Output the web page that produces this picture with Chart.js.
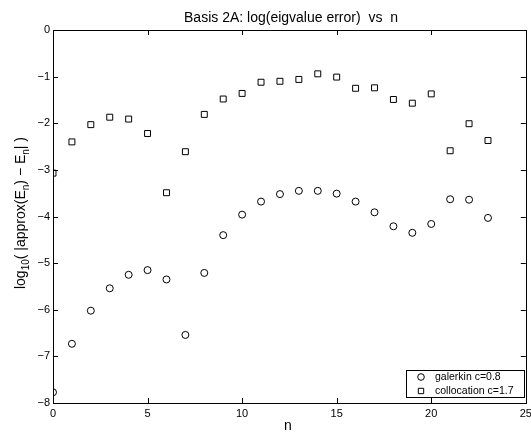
<!DOCTYPE html>
<html>
<head>
<meta charset="utf-8">
<script src="https://cdn.jsdelivr.net/npm/chart.js@4"></script>
<style>
  html, body { margin: 0; padding: 0; background: #fff; }
  #wrap { width: 531px; height: 432px; }
</style>
</head>
<body>
<div id="wrap"><canvas id="eigChart" width="531" height="432"></canvas></div>
<script>
// values
const nValues = [0, 1, 2, 3, 4, 5, 6, 7, 8, 9, 10, 11, 12, 13, 14, 15, 16, 17, 18, 19, 20, 21, 22, 23];
const galerkinErr = [-7.77, -6.73, -6.02, -5.54, -5.25, -5.15, -5.35, -6.54, -5.21, -4.40, -3.96, -3.68,
                     -3.52, -3.45, -3.45, -3.51, -3.68, -3.91, -4.21, -4.35, -4.16, -3.63, -3.64, -4.03];
const collocationErr = [-3.07, -2.40, -2.03, -1.87, -1.91, -2.22, -3.49, -2.61, -1.81, -1.48, -1.36, -1.12,
                        -1.10, -1.06, -0.94, -1.01, -1.25, -1.24, -1.49, -1.57, -1.37, -2.59, -2.01, -2.37];
const xTicks = [0, 5, 10, 15, 20, 25];
const yTicks = [-8, -7, -6, -5, -4, -3, -2, -1, 0];
const seriesLabels = ['galerkin c=0.8', 'collocation c=1.7'];

const FONT = 'Helvetica, Arial, "Liberation Sans", sans-serif';

function toPoints(ys) {
    return nValues.map((n, i) => ({ x: n, y: ys[i] }));
}

// box, inward ticks, title, axis labels and legend in matlab style
const matlabFrame = {
    id: 'matlabFrame',
    afterDraw(chart) {
        const ctx = chart.ctx;
        const a = chart.chartArea;
        const xs = chart.scales.x, ys = chart.scales.y;
        ctx.save();
        ctx.strokeStyle = '#000';
        ctx.lineWidth = 1;
        ctx.strokeRect(Math.round(a.left) + 0.5, Math.round(a.top) + 0.5,
                       Math.round(a.right - a.left), Math.round(a.bottom - a.top));

        const tl = 5;
        ctx.beginPath();
        xTicks.forEach(v => {
            const px = Math.round(xs.getPixelForValue(v)) + 0.5;
            ctx.moveTo(px, a.bottom); ctx.lineTo(px, a.bottom - tl);
            ctx.moveTo(px, a.top); ctx.lineTo(px, a.top + tl);
        });
        yTicks.forEach(v => {
            const py = Math.round(ys.getPixelForValue(v)) + 0.5;
            ctx.moveTo(a.left, py); ctx.lineTo(a.left + tl, py);
            ctx.moveTo(a.right, py); ctx.lineTo(a.right - tl, py);
        });
        ctx.stroke();

        // title
        ctx.fillStyle = '#000';
        ctx.font = '14px ' + FONT;
        ctx.textAlign = 'center';
        ctx.textBaseline = 'alphabetic';
        ctx.fillText('Basis 2A: log(eigvalue error)  vs  n', 291, 22);

        // x label
        ctx.font = '14px ' + FONT;
        ctx.fillText('n', 288, 430);

        // y label with subscripts
        const parts = [
            ['log', false], ['10', true], ['( |approx(E', false], ['n', true],
            [') \u2212 E', false], ['n', true], ['| )', false]
        ];
        const big = '14px ' + FONT, small = '10px ' + FONT;
        let total = 0;
        parts.forEach(p => { ctx.font = p[1] ? small : big; total += ctx.measureText(p[0]).width; });
        ctx.translate(25, 213);
        ctx.rotate(-Math.PI / 2);
        ctx.textAlign = 'left';
        let cx = -total / 2;
        parts.forEach(p => {
            ctx.font = p[1] ? small : big;
            ctx.fillText(p[0], cx, p[1] ? 4 : 0);
            cx += ctx.measureText(p[0]).width;
        });
        ctx.setTransform(1, 0, 0, 1, 0, 0);

        // legend
        const lx = 406, ly = 370, lw = 118, lh = 27;
        ctx.fillStyle = '#fff';
        ctx.fillRect(lx, ly, lw, lh);
        ctx.strokeRect(lx + 0.5, ly + 0.5, lw, lh);
        ctx.font = '10.5px ' + FONT;
        ctx.textBaseline = 'middle';
        chart.data.datasets.forEach((ds, i) => {
            const yy = ly + 7 + i * 14;
            ctx.fillStyle = 'rgba(0,0,0,0)';
            Chart.helpers.drawPoint(ctx, {
                pointStyle: ds.pointStyle, radius: i === 0 ? 3.3 : 3.8, borderWidth: 1, rotation: 0
            }, lx + 15, yy);
            ctx.fillStyle = '#000';
            ctx.fillText(ds.label, lx + 29, yy);
        });
        ctx.restore();
    }
};

const ctx = document.getElementById('eigChart').getContext('2d');
new Chart(ctx, {
    type: 'scatter',
    data: {
        datasets: [{
            label: seriesLabels[0],
            data: toPoints(galerkinErr),
            pointStyle: 'circle',
            pointRadius: 3.5,
            borderColor: '#000',
            backgroundColor: 'rgba(0,0,0,0)',
            borderWidth: 1
        }, {
            label: seriesLabels[1],
            data: toPoints(collocationErr),
            pointStyle: 'rect',
            pointRadius: 4.2,
            borderColor: '#000',
            backgroundColor: 'rgba(0,0,0,0)',
            borderWidth: 1
        }]
    },
    options: {
        responsive: false,
        animation: false,
        events: [],
        layout: { padding: { left: 0, right: 4, top: 30, bottom: 0 } },
        plugins: {
            legend: { display: false },
            tooltip: { enabled: false }
        },
        scales: {
            x: {
                type: 'linear',
                min: 0, max: 25,
                afterBuildTicks: s => { s.ticks = xTicks.map(v => ({ value: v })); },
                afterFit: s => { s.height = 29; s.paddingLeft = 0; s.paddingRight = 0; },
                grid: { display: false, drawTicks: false },
                border: { display: false },
                ticks: { color: '#000', font: { size: 11, family: FONT }, padding: 4, maxRotation: 0 }
            },
            y: {
                type: 'linear',
                min: -8, max: 0,
                afterBuildTicks: s => { s.ticks = yTicks.map(v => ({ value: v })); },
                afterFit: s => { s.width = 53; s.paddingTop = 0; s.paddingBottom = 0; },
                grid: { display: false, drawTicks: false },
                border: { display: false },
                ticks: {
                    color: '#000', font: { size: 11, family: FONT }, padding: 3,
                    callback: v => String(v).replace('-', '\u2212')
                }
            }
        }
    },
    plugins: [matlabFrame]
});
</script>
</body>
</html>
